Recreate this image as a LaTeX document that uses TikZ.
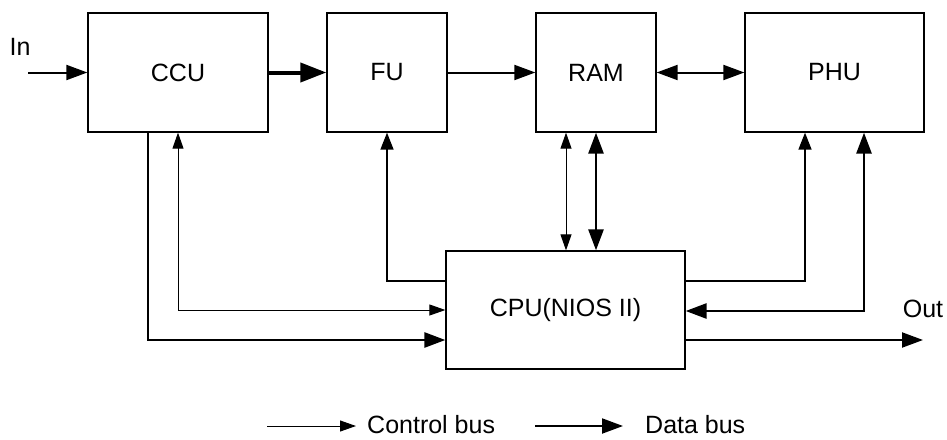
\documentclass[tikz,border=0pt]{standalone}
\usepackage{fontspec}
\setmainfont{Liberation Sans}
\usetikzlibrary{arrows.meta,calc}
\begin{document}
\begin{tikzpicture}[x=1pt,y=-1pt,
  blk/.style={draw,line width=1.3pt,minimum height=119pt,inner sep=0pt,font=\fontsize{25}{28}\selectfont},
  lbl/.style={font=\fontsize{25}{28}\selectfont,inner sep=0pt},
  ctl/.style={line width=1pt,-{Triangle[length=16pt,width=11pt]}},
  ctlb/.style={line width=1pt,{Triangle[length=16pt,width=11pt]}-{Triangle[length=16pt,width=11pt]}},
  ctlm/.style={line width=1.5pt,-{Triangle[length=17pt,width=13pt]}},
  sig/.style={line width=2pt,-{Triangle[length=21pt,width=15pt]}},
  sigb/.style={line width=2pt,{Triangle[length=21pt,width=15pt]}-{Triangle[length=21pt,width=15pt]}},
  dat/.style={line width=2.7pt,-{Triangle[length=21pt,width=15pt]}},
  datb/.style={line width=2.7pt,{Triangle[length=21pt,width=15pt]}-{Triangle[length=21pt,width=15pt]}},
  big/.style={line width=4pt,-{Triangle[length=26pt,width=19pt]}}]
\useasboundingbox (0,0) rectangle (947,439);
\node[blk,minimum width=180pt] (CCU) at (178,72.5) {CCU};
\node[blk,minimum width=120pt] (FU) at (387,72.5) {FU};
\node[blk,minimum width=120pt] (RAM) at (596,72.5) {RAM};
\node[blk,minimum width=179pt] (PHU) at (834.5,72.5) {PHU};
\node[blk,minimum width=239pt,minimum height=118pt] (CPU) at (565.5,310) {CPU(NIOS II)};
\node[lbl] (in) at (20,47) {In};
\node[lbl] (out) at (923,309) {Out};
\coordinate (inS) at (28,72.5);
\coordinate (outE) at (923,340);
% top row
\draw[sig] (inS) -- (CCU.west);
\draw[big] (CCU.east) -- (FU.west);
\draw[sig] (FU.east) -- (RAM.west);
\draw[sigb] (RAM.east) -- (PHU.west);
% CCU links
\draw[ctlb] (CCU.south) |- (CPU.west);
\draw[dat] ([xshift=-30pt]CCU.south) |- ([yshift=-30pt]CPU.west);
% FU link
\draw[ctlm] ([yshift=29pt]CPU.west) -| (FU.south);
% RAM links
\draw[ctlb] ([xshift=-30pt]RAM.south) -- ([xshift=0.5pt]CPU.north);
\draw[datb] (RAM.south) -- ([xshift=30.5pt]CPU.north);
% PHU links
\draw[ctlm] ([yshift=29pt]CPU.east) -| ([xshift=-29.5pt]PHU.south);
\draw[datb] ([xshift=29.5pt]PHU.south) |- ([yshift=-1pt]CPU.east);
\draw[sig] ([yshift=-30pt]CPU.east) -- (outE);
% legend
\coordinate (l1a) at (267,426);
\coordinate (l1b) at (356,426);
\coordinate (l2a) at (535,426);
\coordinate (l2b) at (623,426);
\draw[ctl] (l1a) -- (l1b);
\node[lbl,anchor=west] (lc) at (367,425) {Control bus};
\draw[sig] (l2a) -- (l2b);
\node[lbl,anchor=west] (ld) at (645,425) {Data bus};
\end{tikzpicture}
\end{document}
